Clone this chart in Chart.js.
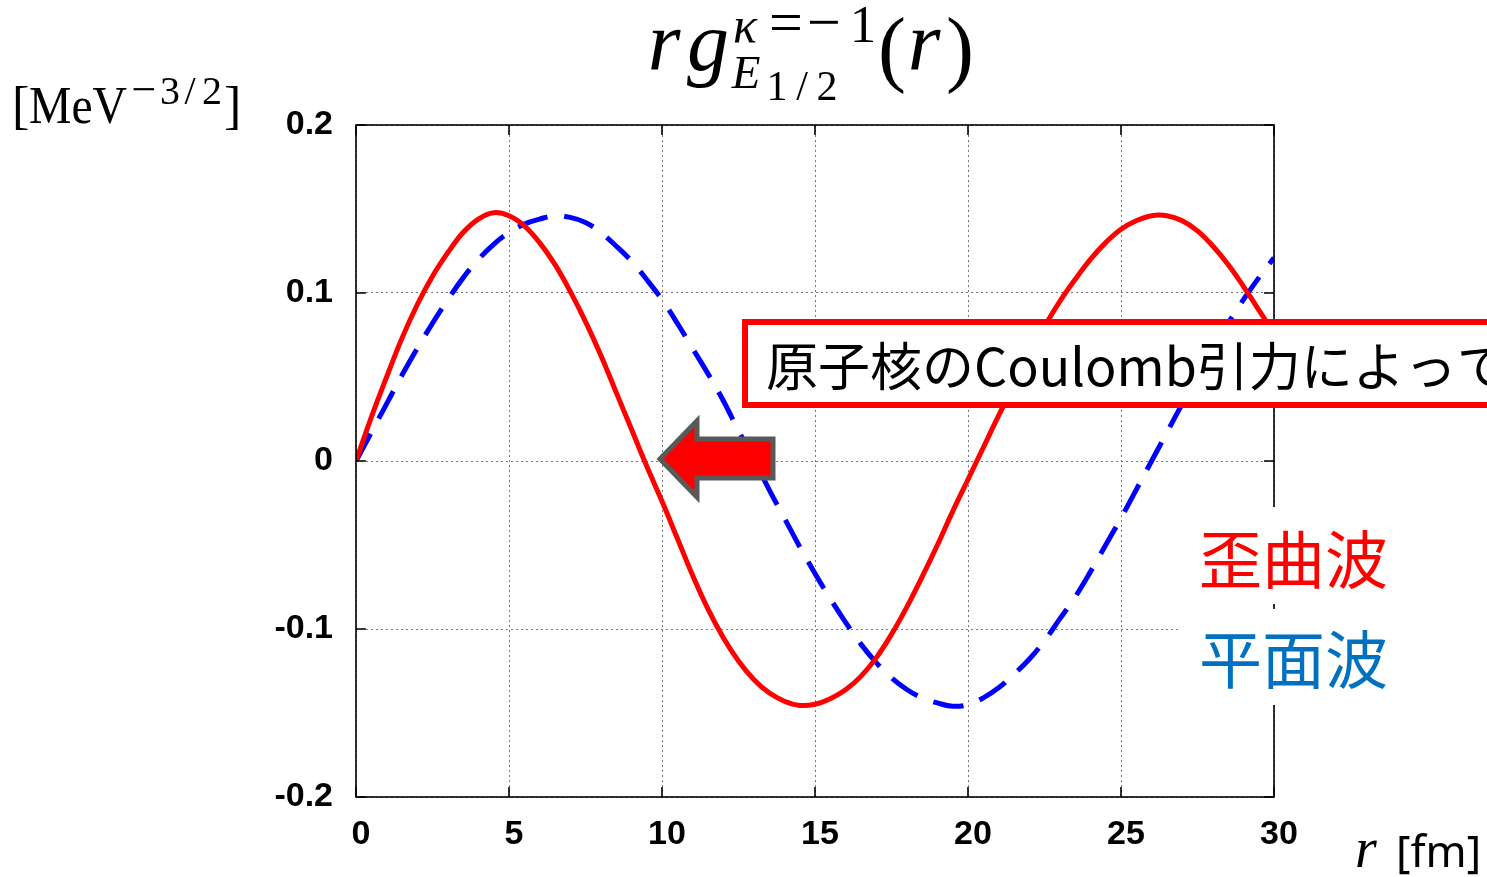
<!DOCTYPE html>
<html>
<head>
<meta charset="utf-8">
<script src="https://cdn.jsdelivr.net/npm/chart.js@4.4.1/dist/chart.umd.min.js"></script>
<style>
  html, body { margin: 0; padding: 0; background: #ffffff; }
  #wrap { width: 1487px; height: 877px; position: relative; }
</style>
</head>
<body>
<div id="wrap"><canvas id="c" width="1487" height="877"></canvas></div>
<script>
// ---- data ----
const rValues = [0,0.5,1,1.5,2,2.5,3,3.5,4,4.5,5,5.5,6,6.5,7,7.5,8,8.5,9,9.5,10,10.5,11,11.5,12,12.5,13,13.5,14,14.5,15,15.5,16,16.5,17,17.5,18,18.5,19,19.5,20,20.5,21,21.5,22,22.5,23,23.5,24,24.5,25,25.5,26,26.5,27,27.5,28,28.5,29,29.5,30];
const distortedWave = [0,0.026,0.050,0.073,0.093,0.110,0.124,0.136,0.144,0.1478,0.146,0.140,0.130,0.117,0.101,0.083,0.063,0.041,0.019,-0.003,-0.024,-0.046,-0.068,-0.088,-0.105,-0.119,-0.130,-0.138,-0.143,-0.1455,-0.1448,-0.1415,-0.1362,-0.1282,-0.1172,-0.1032,-0.087,-0.069,-0.050,-0.030,-0.011,0.008,0.027,0.045,0.063,0.080,0.095,0.108,0.120,0.130,0.138,0.143,0.146,0.146,0.143,0.137,0.128,0.117,0.104,0.090,0.076];
const planeWave = [0,0.017,0.034,0.051,0.067,0.082,0.096,0.109,0.120,0.129,0.136,0.141,0.144,0.146,0.145,0.142,0.136,0.128,0.119,0.108,0.096,0.082,0.067,0.052,0.036,0.018,0.001,-0.017,-0.034,-0.051,-0.067,-0.082,-0.096,-0.109,-0.120,-0.129,-0.136,-0.141,-0.144,-0.146,-0.145,-0.141,-0.135,-0.127,-0.118,-0.107,-0.094,-0.081,-0.066,-0.050,-0.034,-0.017,0.000,0.017,0.034,0.051,0.067,0.082,0.096,0.109,0.121];
const xTickValues = [0,5,10,15,20,25,30];
const xTickLabels = ['0','5','10','15','20','25','30'];
const yTickValues = [-0.2,-0.1,0,0.1,0.2];
const yTickLabels = ['-0.2','-0.1','0','0.1','0.2'];
const seriesNames = ['歪曲波','平面波'];
const annotationText = '原子核のCoulomb引力によって';

const tickFont = { family: '"Liberation Sans", Arial, sans-serif', size: 34, weight: 'bold' };
const CJK = '"Noto Sans CJK JP", "Noto Sans CJK SC", sans-serif';
const SERIF = '"Liberation Serif", "DejaVu Serif", serif';

function glyph(ctx, txt, cx, base, font) {
  ctx.font = font; ctx.textAlign = 'center'; ctx.textBaseline = 'alphabetic';
  ctx.fillText(txt, cx, base);
}
function fitText(ctx, txt, x, base, font, width) {
  ctx.save();
  ctx.font = font; ctx.textAlign = 'left'; ctx.textBaseline = 'alphabetic';
  const w = ctx.measureText(txt).width;
  ctx.translate(x, base);
  ctx.scale(width / w, 1);
  ctx.fillText(txt, 0, 0);
  ctx.restore();
}

const decor = {
  id: 'decor',
  afterDatasetsDraw(chart) {
    const ctx = chart.ctx, a = chart.chartArea;
    const xs = chart.scales.x, ys = chart.scales.y;
    ctx.save();
    // frame
    ctx.strokeStyle = '#000'; ctx.lineWidth = 1.6;
    ctx.strokeRect(a.left, a.top, a.right - a.left, a.bottom - a.top);
    // inward ticks
    ctx.beginPath();
    yTickValues.forEach(v => {
      const p = ys.getPixelForValue(v);
      ctx.moveTo(a.left, p); ctx.lineTo(a.left + 10, p);
      ctx.moveTo(a.right, p); ctx.lineTo(a.right - 10, p);
    });
    xTickValues.forEach(v => {
      const p = xs.getPixelForValue(v);
      ctx.moveTo(p, a.bottom); ctx.lineTo(p, a.bottom - 10);
      ctx.moveTo(p, a.top); ctx.lineTo(p, a.top + 10);
    });
    ctx.stroke();

    // legend white boxes
    ctx.fillStyle = '#fff';
    ctx.fillRect(1178, 507, 230, 97);
    ctx.fillRect(1178, 609, 230, 96);
    ctx.textAlign = 'left'; ctx.textBaseline = 'middle';
    ctx.font = '63px ' + CJK;
    ctx.fillStyle = '#ff0000';
    ctx.fillText(seriesNames[0], 1199, 559);
    ctx.fillStyle = '#0070c0';
    ctx.fillText(seriesNames[1], 1199, 659);

    // arrow
    ctx.beginPath();
    ctx.moveTo(660, 459);
    ctx.lineTo(697, 421);
    ctx.lineTo(697, 439);
    ctx.lineTo(773, 439);
    ctx.lineTo(773, 478);
    ctx.lineTo(697, 478);
    ctx.lineTo(697, 497);
    ctx.closePath();
    ctx.fillStyle = '#ff0000'; ctx.fill();
    ctx.lineJoin = 'miter'; ctx.lineWidth = 5; ctx.strokeStyle = '#595959'; ctx.stroke();

    // annotation box
    ctx.fillStyle = '#fff';
    ctx.fillRect(745, 322, 800, 83);
    ctx.lineWidth = 6; ctx.strokeStyle = '#ff0000';
    ctx.strokeRect(745, 322, 800, 83);
    ctx.fillStyle = '#000';
    ctx.font = '52px ' + CJK;
    ctx.textAlign = 'left'; ctx.textBaseline = 'middle';
    ctx.fillText(annotationText, 766, 366);

    // title r g^{κ=−1}_{E_{1/2}}(r)
    ctx.fillStyle = '#000';
    glyph(ctx, 'r', 664, 70, 'italic 84px ' + SERIF);
    glyph(ctx, 'g', 708, 70, 'italic 84px ' + SERIF);
    glyph(ctx, 'κ', 745, 42, 'italic 50px ' + SERIF);
    glyph(ctx, '=', 786, 42, '60px ' + SERIF);
    glyph(ctx, '−', 824, 42, '60px ' + SERIF);
    glyph(ctx, '1', 863, 42, '53px ' + SERIF);
    glyph(ctx, 'E', 746, 88, 'italic 47px ' + SERIF);
    glyph(ctx, '1', 777, 100, '42px ' + SERIF);
    glyph(ctx, '/', 802, 100, '42px ' + SERIF);
    glyph(ctx, '2', 827, 100, '42px ' + SERIF);
    glyph(ctx, '(', 892, 76, '84px ' + SERIF);
    glyph(ctx, 'r', 924, 70, 'italic 84px ' + SERIF);
    glyph(ctx, ')', 960, 76, '84px ' + SERIF);

    // y unit label [MeV^{-3/2}]
    ctx.textAlign = 'left'; ctx.textBaseline = 'alphabetic';
    ctx.font = '52px ' + SERIF;
    ctx.fillText('[', 12, 123);
    fitText(ctx, 'MeV', 29, 123, '52px ' + SERIF, 98);
    glyph(ctx, '−', 144, 104, '44px ' + SERIF);
    glyph(ctx, '3', 170, 104, '40px ' + SERIF);
    glyph(ctx, '/', 190, 104, '40px ' + SERIF);
    glyph(ctx, '2', 212, 104, '40px ' + SERIF);
    ctx.textAlign = 'left';
    ctx.font = '52px ' + SERIF;
    ctx.fillText(']', 224, 123);

    // x label r [fm]
    ctx.font = 'italic 56px ' + SERIF;
    ctx.fillText('r', 1355, 867);
    ctx.font = '44px "Noto Sans", "Open Sans", sans-serif';
    ctx.fillText('[fm]', 1396, 867);
    ctx.restore();
  }
};

const ctx = document.getElementById('c').getContext('2d');
new Chart(ctx, {
  type: 'line',
  data: {
    datasets: [
      {
        label: seriesNames[0],
        data: rValues.map((r, i) => ({ x: r, y: distortedWave[i] })),
        borderColor: '#ff0000', borderWidth: 5, pointRadius: 0,
        tension: 0.4, fill: false
      },
      {
        label: seriesNames[1],
        data: rValues.map((r, i) => ({ x: r, y: planeWave[i] })),
        borderColor: '#0000ff', borderWidth: 5, pointRadius: 0,
        borderDash: [31, 17], borderCapStyle: 'butt',
        tension: 0.4, fill: false
      }
    ]
  },
  options: {
    responsive: false, animation: false, devicePixelRatio: 1,
    layout: { padding: { left: 0, top: 125, right: 213, bottom: 0 } },
    plugins: { legend: { display: false }, tooltip: { enabled: false }, title: { display: false } },
    scales: {
      x: {
        type: 'linear', min: 0, max: 30,
        afterBuildTicks: s => { s.ticks = xTickValues.map(v => ({ value: v })); },
        afterFit: s => { s.height = 80; },
        ticks: { font: tickFont, color: '#000', padding: 17, labelOffset: 5, maxRotation: 0,
                 callback: (v, i) => xTickLabels[i] },
        grid: { color: '#777', lineWidth: 1, drawTicks: false },
        border: { display: false, dash: [2, 3] }
      },
      y: {
        type: 'linear', min: -0.2, max: 0.2,
        afterBuildTicks: s => { s.ticks = yTickValues.map(v => ({ value: v })); },
        afterFit: s => { s.width = 356; },
        ticks: { font: tickFont, color: '#000', padding: 23,
                 callback: (v, i) => yTickLabels[i] },
        grid: { color: '#777', lineWidth: 1, drawTicks: false },
        border: { display: false, dash: [2, 3] }
      }
    }
  },
  plugins: [decor]
});
</script>
</body>
</html>
